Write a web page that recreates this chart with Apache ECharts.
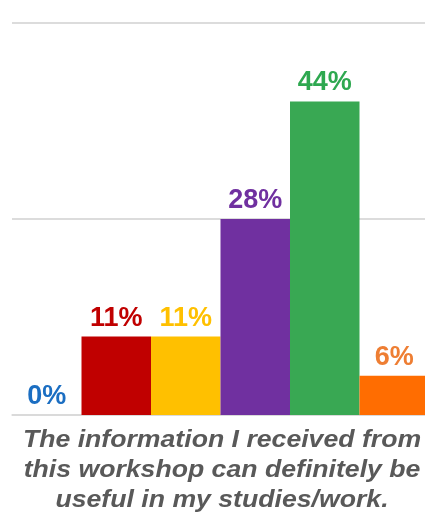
<!DOCTYPE html>
<html>
<head>
<meta charset="utf-8">
<script src="https://cdn.jsdelivr.net/npm/echarts@6/dist/echarts.min.js"></script>
<style>
  html, body { margin: 0; padding: 0; background: #ffffff; }
  #chart { width: 425px; height: 519px; }
</style>
</head>
<body>
<div id="chart"></div>
<script>
// Response counts per rating level (18 respondents in total)
const categories = ['1', '2', '3', '4', '5', 'N/A'];
const counts = [0, 2, 2, 5, 8, 1];
const totalResponses = 18;
const barColors = ['#1B6EC2', '#C00000', '#FFC000', '#7030A0', '#39A853', '#FF6D01'];
const labelColors = ['#1B6EC2', '#C00000', '#FFC000', '#7030A0', '#2EA850', '#EE7E33'];
const question = 'The information I received from\nthis workshop can definitely be\nuseful in my studies/work.';

// Share of respondents, in percent
const shares = counts.map(c => c / totalResponses * 100);
const halfScale = 5 / totalResponses * 100;

const chart = echarts.init(document.getElementById('chart'), null, { renderer: 'canvas' });
chart.setOption({
  backgroundColor: '#ffffff',
  animation: false,
  grid: { left: 12, width: 417, top: 23, bottom: 104, outerBoundsMode: 'none' },
  xAxis: {
    type: 'category',
    data: categories,
    axisLine: { show: true, lineStyle: { color: '#d9d9d9', width: 1.5 } },
    axisTick: { show: false },
    axisLabel: { show: false }
  },
  yAxis: {
    type: 'value',
    min: 0,
    max: halfScale * 2,
    interval: halfScale,
    axisLabel: { show: false },
    axisLine: { show: false },
    axisTick: { show: false },
    splitLine: { lineStyle: { color: '#dcdcdc', width: 2 } }
  },
  series: [{
    type: 'bar',
    barWidth: '100%',
    data: shares.map((v, i) => ({
      value: v,
      itemStyle: { color: barColors[i] },
      label: { color: labelColors[i] }
    })),
    label: {
      show: true,
      position: 'top',
      distance: 5,
      fontFamily: 'Liberation Sans, Arial, sans-serif',
      fontWeight: 'bold',
      fontSize: 27,
      formatter: p => Math.round(p.value) + '%'
    }
  }],
  graphic: [{
    type: 'text',
    x: 222,
    y: 425,
    scaleX: 1.11,
    style: {
      text: question,
      x: 0,
      y: 0,
      fill: '#595959',
      font: 'italic bold 24px "Liberation Sans", Arial, sans-serif',
      textAlign: 'center',
      textVerticalAlign: 'top',
      lineHeight: 30
    }
  }]
});
</script>
</body>
</html>
